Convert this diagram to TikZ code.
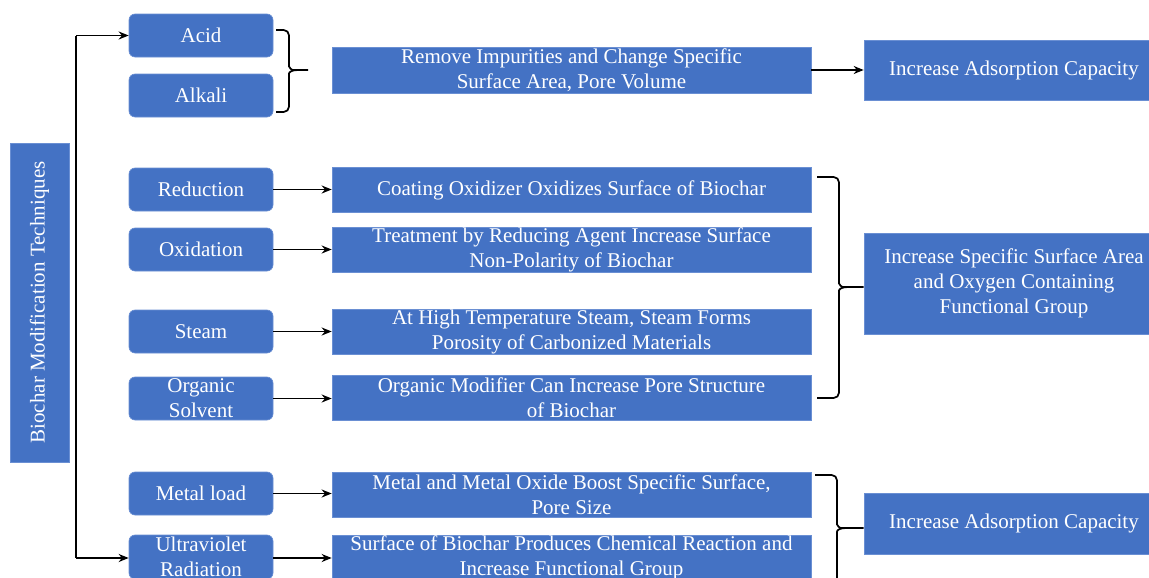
\documentclass[tikz,border=0pt]{standalone}
\usepackage{fontspec}
\setmainfont{Liberation Serif}
\usetikzlibrary{arrows.meta}
\definecolor{boxblue}{HTML}{4472C4}
\definecolor{boxedge}{HTML}{6A8FD3}
\begin{document}
\begin{tikzpicture}[x=0.75pt,y=-0.75pt,
  base/.style={fill=boxblue,draw=boxedge,line width=0.5pt,text=white,align=center,
    font=\fontsize{15.75}{18.75}\selectfont,inner sep=0pt},
  tech/.style={base,rounded corners=4.5pt,minimum width=108pt,minimum height=32.25pt},
  desc/.style={base,minimum width=359.25pt,minimum height=33.75pt},
  res/.style={base,minimum width=225pt},
  arr/.style={line width=1.3pt,-{Stealth[length=7.5pt,width=6pt]}},
  brc/.style={line width=1.3pt,rounded corners=4pt}]
\clip (0,0) rectangle (1149,578);
\useasboundingbox (0,0) rectangle (1149,578);

% title
\node[base,rotate=90,minimum width=239.25pt,minimum height=44.25pt] (title) at (39.5,302.5) {Biochar Modification Techniques};

% techniques
\node[tech] (acid) at (201,35.5) {Acid};
\node[tech] (alk) at (201,95.5) {Alkali};
\node[tech] (red) at (201,189.5) {Reduction};
\node[tech] (oxi) at (201,249.5) {Oxidation};
\node[tech] (stm) at (201,331.5) {Steam};
\node[tech] (org) at (201,398.5) {Organic\\Solvent};
\node[tech] (met) at (201,493.5) {Metal load};
\node[tech,minimum height=33pt] (uv) at (201,557) {Ultraviolet\\Radiation};

% descriptions
\node[desc,minimum height=34.5pt] (rem) at (571.5,70) {Remove Impurities and Change Specific\\Surface Area, Pore Volume};
\node[desc] (coat) at (571.5,190) {Coating Oxidizer Oxidizes Surface of Biochar};
\node[desc] (treat) at (571.5,249.5) {Treatment by Reducing Agent Increase Surface\\Non-Polarity of Biochar};
\node[desc] (high) at (571.5,331.5) {At High Temperature Steam, Steam Forms\\Porosity of Carbonized Materials};
\node[desc] (omod) at (571.5,397.5) {Organic Modifier Can Increase Pore Structure\\of Biochar};
\node[desc] (mdesc) at (571.5,494.5) {Metal and Metal Oxide Boost Specific Surface,\\Pore Size};
\node[desc] (surf) at (571.5,557.5) {Surface of Biochar Produces Chemical Reaction and\\Increase Functional Group};

% results
\node[res,minimum height=45pt] (inc1) at (1014,70) {Increase Adsorption Capacity};
\node[res,minimum height=75.75pt] (inc2) at (1014,283.5) {Increase Specific Surface Area\\and Oxygen Containing\\Functional Group};
\node[res,minimum height=45.75pt] (inc3) at (1014,523.5) {Increase Adsorption Capacity};

% trunk
\coordinate (trunkA) at (76,35.5);
\coordinate (trunkB) at (76,558);
\draw[line width=1.3pt] (trunkA) -- (trunkB);
\draw[arr] (trunkA) -- (acid.west);
\draw[arr] (trunkB) -- (uv.west |- trunkB);

% horizontal arrows
\draw[arr] (red.east) -- (red.east -| coat.west);
\draw[arr] (oxi.east) -- (oxi.east -| treat.west);
\draw[arr] (stm.east) -- (stm.east -| high.west);
\draw[arr] (org.east) -- (org.east -| omod.west);
\draw[arr] (met.east) -- (met.east -| mdesc.west);
\draw[arr] (uv.east |- trunkB) -- (trunkB -| surf.west);
\draw[arr] (rem.east) -- (inc1.west);

% brace 1
\coordinate (b1tip) at (308,70);
\draw[brc] (276,30) -- (289,30) -- (289,61) .. controls (289,68) and (292,70) .. (298,70) -- (b1tip);
\draw[brc] (276,112) -- (289,112) -- (289,79) .. controls (289,72) and (292,70) .. (298,70);

% brace 2
\draw[brc] (817,177) -- (839,177) -- (839,278) .. controls (839,285) and (842,287) .. (848,287) -- (inc2.west |- 0,287);
\draw[brc] (817,398) -- (839,398) -- (839,296) .. controls (839,289) and (842,287) .. (848,287);

% brace 3
\draw[brc] (815,475) -- (837,475) -- (837,519) .. controls (837,526) and (840,528) .. (846,528) -- (inc3.west |- 0,528);
\draw[brc] (815,590) -- (837,590) -- (837,537) .. controls (837,530) and (840,528) .. (846,528);
\end{tikzpicture}
\end{document}
